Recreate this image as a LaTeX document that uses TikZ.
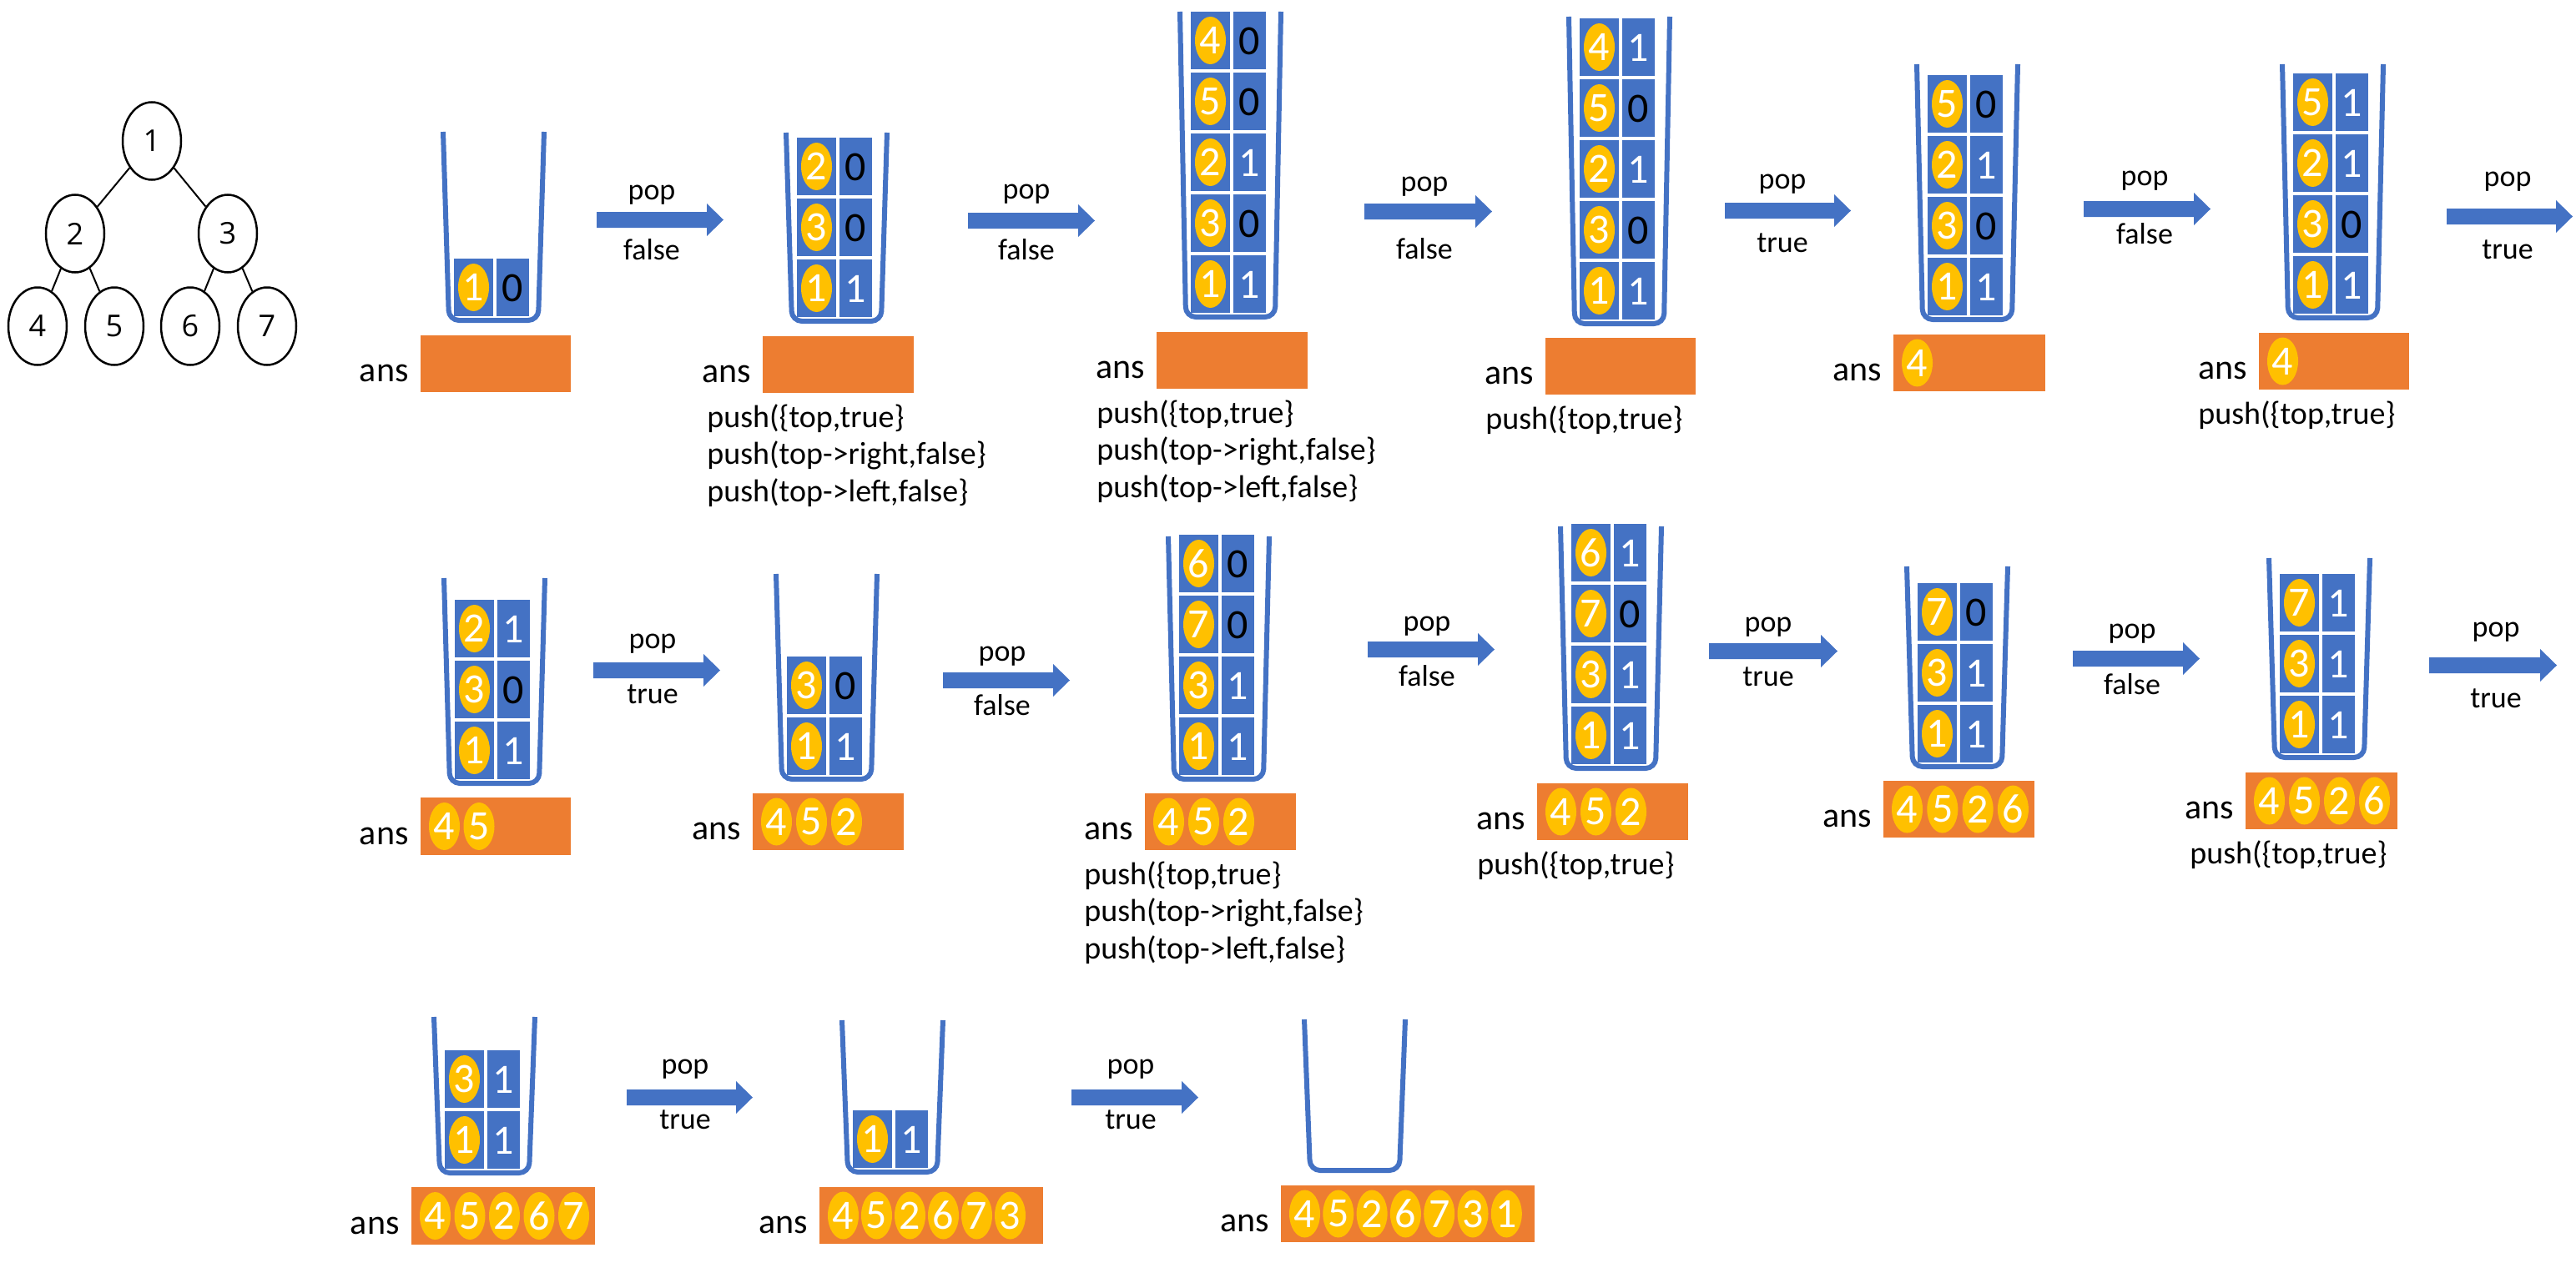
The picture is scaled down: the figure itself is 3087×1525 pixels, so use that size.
\documentclass[tikz,border=0pt]{standalone}
\usepackage{fontspec}
\setmainfont{Carlito}
\newfontfamily\treefont{Open Sans}
\usetikzlibrary{shapes.geometric}
\definecolor{sblue}{HTML}{4472C4}
\definecolor{sorange}{HTML}{ED7D31}
\definecolor{syellow}{HTML}{FFC000}
\tikzset{
  cupline/.style={draw=sblue, line width=3pt, rounded corners=6pt},
  cellbox/.style={fill=sblue},
  bead/.style={ellipse, fill=syellow, minimum width=18.5pt, minimum height=28.5pt, inner sep=0pt, text=white, font=\fontsize{25}{25}\selectfont},
  bitlbl/.style={inner sep=0pt, font=\fontsize{25}{25}\selectfont},
  ansbar/.style={fill=sorange},
  anslbl/.style={anchor=base east, inner sep=0pt, font=\fontsize{21}{21}\selectfont},
  pushlbl/.style={anchor=base west, inner sep=0pt, font=\fontsize{19}{19}\selectfont},
  oplbl/.style={anchor=base, inner sep=0pt, font=\fontsize{18}{18}\selectfont},
  barrow/.style={fill=sblue},
  tnode/.style={ellipse, draw, line width=1.25pt, minimum width=35pt, minimum height=46.5pt, inner sep=0pt, font=\treefont\fontsize{18}{18}\selectfont},
  tedge/.style={line width=1pt},
}
% cup: #1 xl, #2 top y, #3 bottom y
\newcommand\drawcup[3]{%
  \draw[cupline] ({#1+3},#2) -- ({#1+10},{#3-3}) -- ({#1+117},{#3-3}) -- ({#1+124},#2);
}
% cells: #1 name, #2 xl, #3 bottom y of cup, #4 entries bottom-first
\newcommand\drawcells[4]{%
  \foreach \va/\vb [count=\k from 0] in {#4}{%
    \pgfmathsetmacro\cyb{#3-8-\k*73}%
    \pgfmathsetmacro\cyt{\cyb-69}%
    \pgfmathsetmacro\cym{\cyb-34.5}%
    \fill[cellbox] ({#2+16},\cyt) rectangle ({#2+63},\cyb);
    \fill[cellbox] ({#2+67},\cyt) rectangle ({#2+106},\cyb);
    \node[bead] (#1v\k) at ({#2+39.5},\cym) {\va};
    \ifnum\vb=0 \def\bc{black}\else\def\bc{white}\fi
    \node[bitlbl, text=\bc] (#1f\k) at ({#2+86.5},{\cym+1}) {\vb};
  }%
}
% answer bar: #1 name, #2 x1, #3 y1, #4 x2, #5 y2
\newcommand\drawans[5]{%
  \fill[ansbar] (#2,#3) rectangle (#4,#5);
  \node[anslbl] (#1l) at ({#2-14},{#5-13}) {ans};
}
% beads: #1 name, #2 x1, #3 y1, #4 y2, #5 pitch, #6 list
\newcommand\ansbeads[6]{%
  \foreach \vd [count=\k from 0] in {#6}{%
    \node[bead] (#1b\k) at ({#2+28.5+\k*#5},{(#3+#4)/2}) {\vd};
  }%
}
% block arrow: #1 xs, #2 xe, #3 shaft top
\newcommand\blockarrow[3]{%
  \fill[barrow] (#1,#3) -- ({#2-20},#3) -- ({#2-20},{#3-10}) -- (#2,{#3+9.5}) -- ({#2-20},{#3+29}) -- ({#2-20},{#3+19}) -- (#1,{#3+19}) -- cycle;
}
% op labels: #1 name, #2 x, #3 pop base, #4 word, #5 word base
\newcommand\oplabels[5]{%
  \node[oplbl] (#1p) at (#2,#3) {pop};
  \node[oplbl] (#1w) at (#2,#5) {#4};
}
\begin{document}
\begin{tikzpicture}[x=0.5pt,y=-0.5pt]
\useasboundingbox (0,0) rectangle (3087,1525);
% tree
\node[tnode] (t1) at (182,169) {1};
\node[tnode] (t2) at (90,280) {2};
\node[tnode] (t3) at (273,280) {3};
\node[tnode] (t4) at (45,391) {4};
\node[tnode] (t5) at (137,391) {5};
\node[tnode] (t6) at (228,391) {6};
\node[tnode] (t7) at (320,391) {7};
\draw[tedge] (t1) -- (t2);
\draw[tedge] (t1) -- (t3);
\draw[tedge] (t2) -- (t4);
\draw[tedge] (t2) -- (t5);
\draw[tedge] (t3) -- (t6);
\draw[tedge] (t3) -- (t7);
% ---------- row 1
\drawcup{528}{158}{387}\drawcells{sa}{528}{387}{1/0}
\drawans{ba}{504}{402}{684}{470}
\blockarrow{715}{867}{254}\oplabels{aa}{781}{239}{false}{311}

\drawcup{939}{159}{388}\drawcells{sb}{939}{388}{1/1,3/0,2/0}
\drawans{bb}{914}{403}{1095}{471}
\node[pushlbl] (pb1) at (847,512) {push(\{top,true\}};
\node[pushlbl] (pb2) at (847,556.5) {push(top->right,false\}};
\node[pushlbl] (pb3) at (847,601) {push(top->left,false\}};
\blockarrow{1160}{1312}{255}\oplabels{ab}{1230}{238}{false}{311}

\drawcup{1411}{14}{383}\drawcells{sc}{1411}{383}{1/1,3/0,2/1,5/0,4/0}
\drawans{bc}{1386}{398}{1567}{466}
\node[pushlbl] (pc1) at (1314,507) {push(\{top,true\}};
\node[pushlbl] (pc2) at (1314,551.5) {push(top->right,false\}};
\node[pushlbl] (pc3) at (1314,596) {push(top->left,false\}};
\blockarrow{1635}{1788}{244}\oplabels{ac}{1707}{229}{false}{310}

\drawcup{1877}{20}{391}\drawcells{sd}{1877}{391}{1/1,3/0,2/1,5/0,4/1}
\drawans{bd}{1852}{405}{2032}{473}
\node[pushlbl] (pd1) at (1780,514) {push(\{top,true\}};
\blockarrow{2067}{2218}{243}\oplabels{ad}{2136}{226}{true}{302}

\drawcup{2294}{77}{386}\drawcells{se}{2294}{386}{1/1,3/0,2/1,5/0}
\drawans{be}{2269}{401}{2451}{469}\ansbeads{be}{2269}{401}{469}{41}{4}
\blockarrow{2497}{2649}{241}\oplabels{ae}{2570}{222}{false}{292}

\drawcup{2732}{77}{384}\drawcells{sf}{2732}{384}{1/1,3/0,2/1,5/1}
\drawans{bf}{2707}{399}{2887}{467}\ansbeads{bf}{2707}{399}{467}{41}{4}
\node[pushlbl] (pf1) at (2634,508) {push(\{top,true\}};
\blockarrow{2932}{3083}{250}\oplabels{af}{3005}{223}{true}{310}
% ---------- row 2
\drawcup{529}{693}{942}\drawcells{sg}{529}{942}{1/1,3/0,2/1}
\drawans{bg}{504}{956}{684}{1025}\ansbeads{bg}{504}{956}{1025}{41.5}{4,5}
\blockarrow{711}{863}{794}\oplabels{ag}{782}{777}{true}{843}

\drawcup{927}{688}{937}\drawcells{sh}{927}{937}{1/1,3/0}
\drawans{bh}{902}{951}{1083}{1019}\ansbeads{bh}{902}{951}{1019}{42}{4,5,2}
\blockarrow{1130}{1282}{806}\oplabels{ah}{1201}{792}{false}{857}

\drawcup{1397}{643}{937}\drawcells{si}{1397}{937}{1/1,3/1,7/0,6/0}
\drawans{bi}{1372}{951}{1553}{1019}\ansbeads{bi}{1372}{951}{1019}{42}{4,5,2}
\node[pushlbl] (pi1) at (1299,1060) {push(\{top,true\}};
\node[pushlbl] (pi2) at (1299,1104.5) {push(top->right,false\}};
\node[pushlbl] (pi3) at (1299,1149) {push(top->left,false\}};
\blockarrow{1639}{1791}{769}\oplabels{ai}{1710}{756}{false}{822}

\drawcup{1867}{631}{924}\drawcells{sj}{1867}{924}{1/1,3/1,7/0,6/1}
\drawans{bj}{1842}{939}{2023}{1007}\ansbeads{bj}{1842}{939}{1007}{42}{4,5,2}
\node[pushlbl] (pj1) at (1770,1048) {push(\{top,true\}};
\blockarrow{2048}{2202}{771}\oplabels{aj}{2119}{757}{true}{822}

\drawcup{2282}{679}{922}\drawcells{sk}{2282}{922}{1/1,3/1,7/0}
\drawans{bk}{2257}{936}{2438}{1004}\ansbeads{bk}{2257}{936}{1004}{42.3}{4,5,2,6}
\blockarrow{2484}{2636}{780}\oplabels{ak}{2555}{765}{false}{832}

\drawcup{2716}{669}{911}\drawcells{sl}{2716}{911}{1/1,3/1,7/1}
\drawans{bl}{2691}{926}{2873}{994}\ansbeads{bl}{2691}{926}{994}{42}{4,5,2,6}
\node[pushlbl] (pl1) at (2624,1035) {push(\{top,true\}};
\blockarrow{2911}{3064}{788}\oplabels{al}{2991}{763}{true}{848}
% ---------- row 3
\drawcup{517}{1219}{1409}\drawcells{sm}{517}{1409}{1/1,3/1}
\drawans{bm}{493}{1423}{713}{1492}\ansbeads{bm}{493}{1423}{1492}{41.5}{4,5,2,6,7}
\blockarrow{751}{902}{1306}\oplabels{am}{821}{1287}{true}{1353}

\drawcup{1006}{1223}{1408}\drawcells{sn}{1006}{1408}{1/1}
\drawans{bn}{982}{1423}{1250}{1491}\ansbeads{bn}{982}{1423}{1491}{40}{4,5,2,6,7,3}
\blockarrow{1284}{1436}{1306}\oplabels{an}{1355}{1287}{true}{1353}

\drawcup{1560}{1222}{1406}
\drawans{bo}{1535}{1421}{1839}{1489}\ansbeads{bo}{1535}{1421}{1489}{40.3}{4,5,2,6,7,3,1}
\end{tikzpicture}
\end{document}
